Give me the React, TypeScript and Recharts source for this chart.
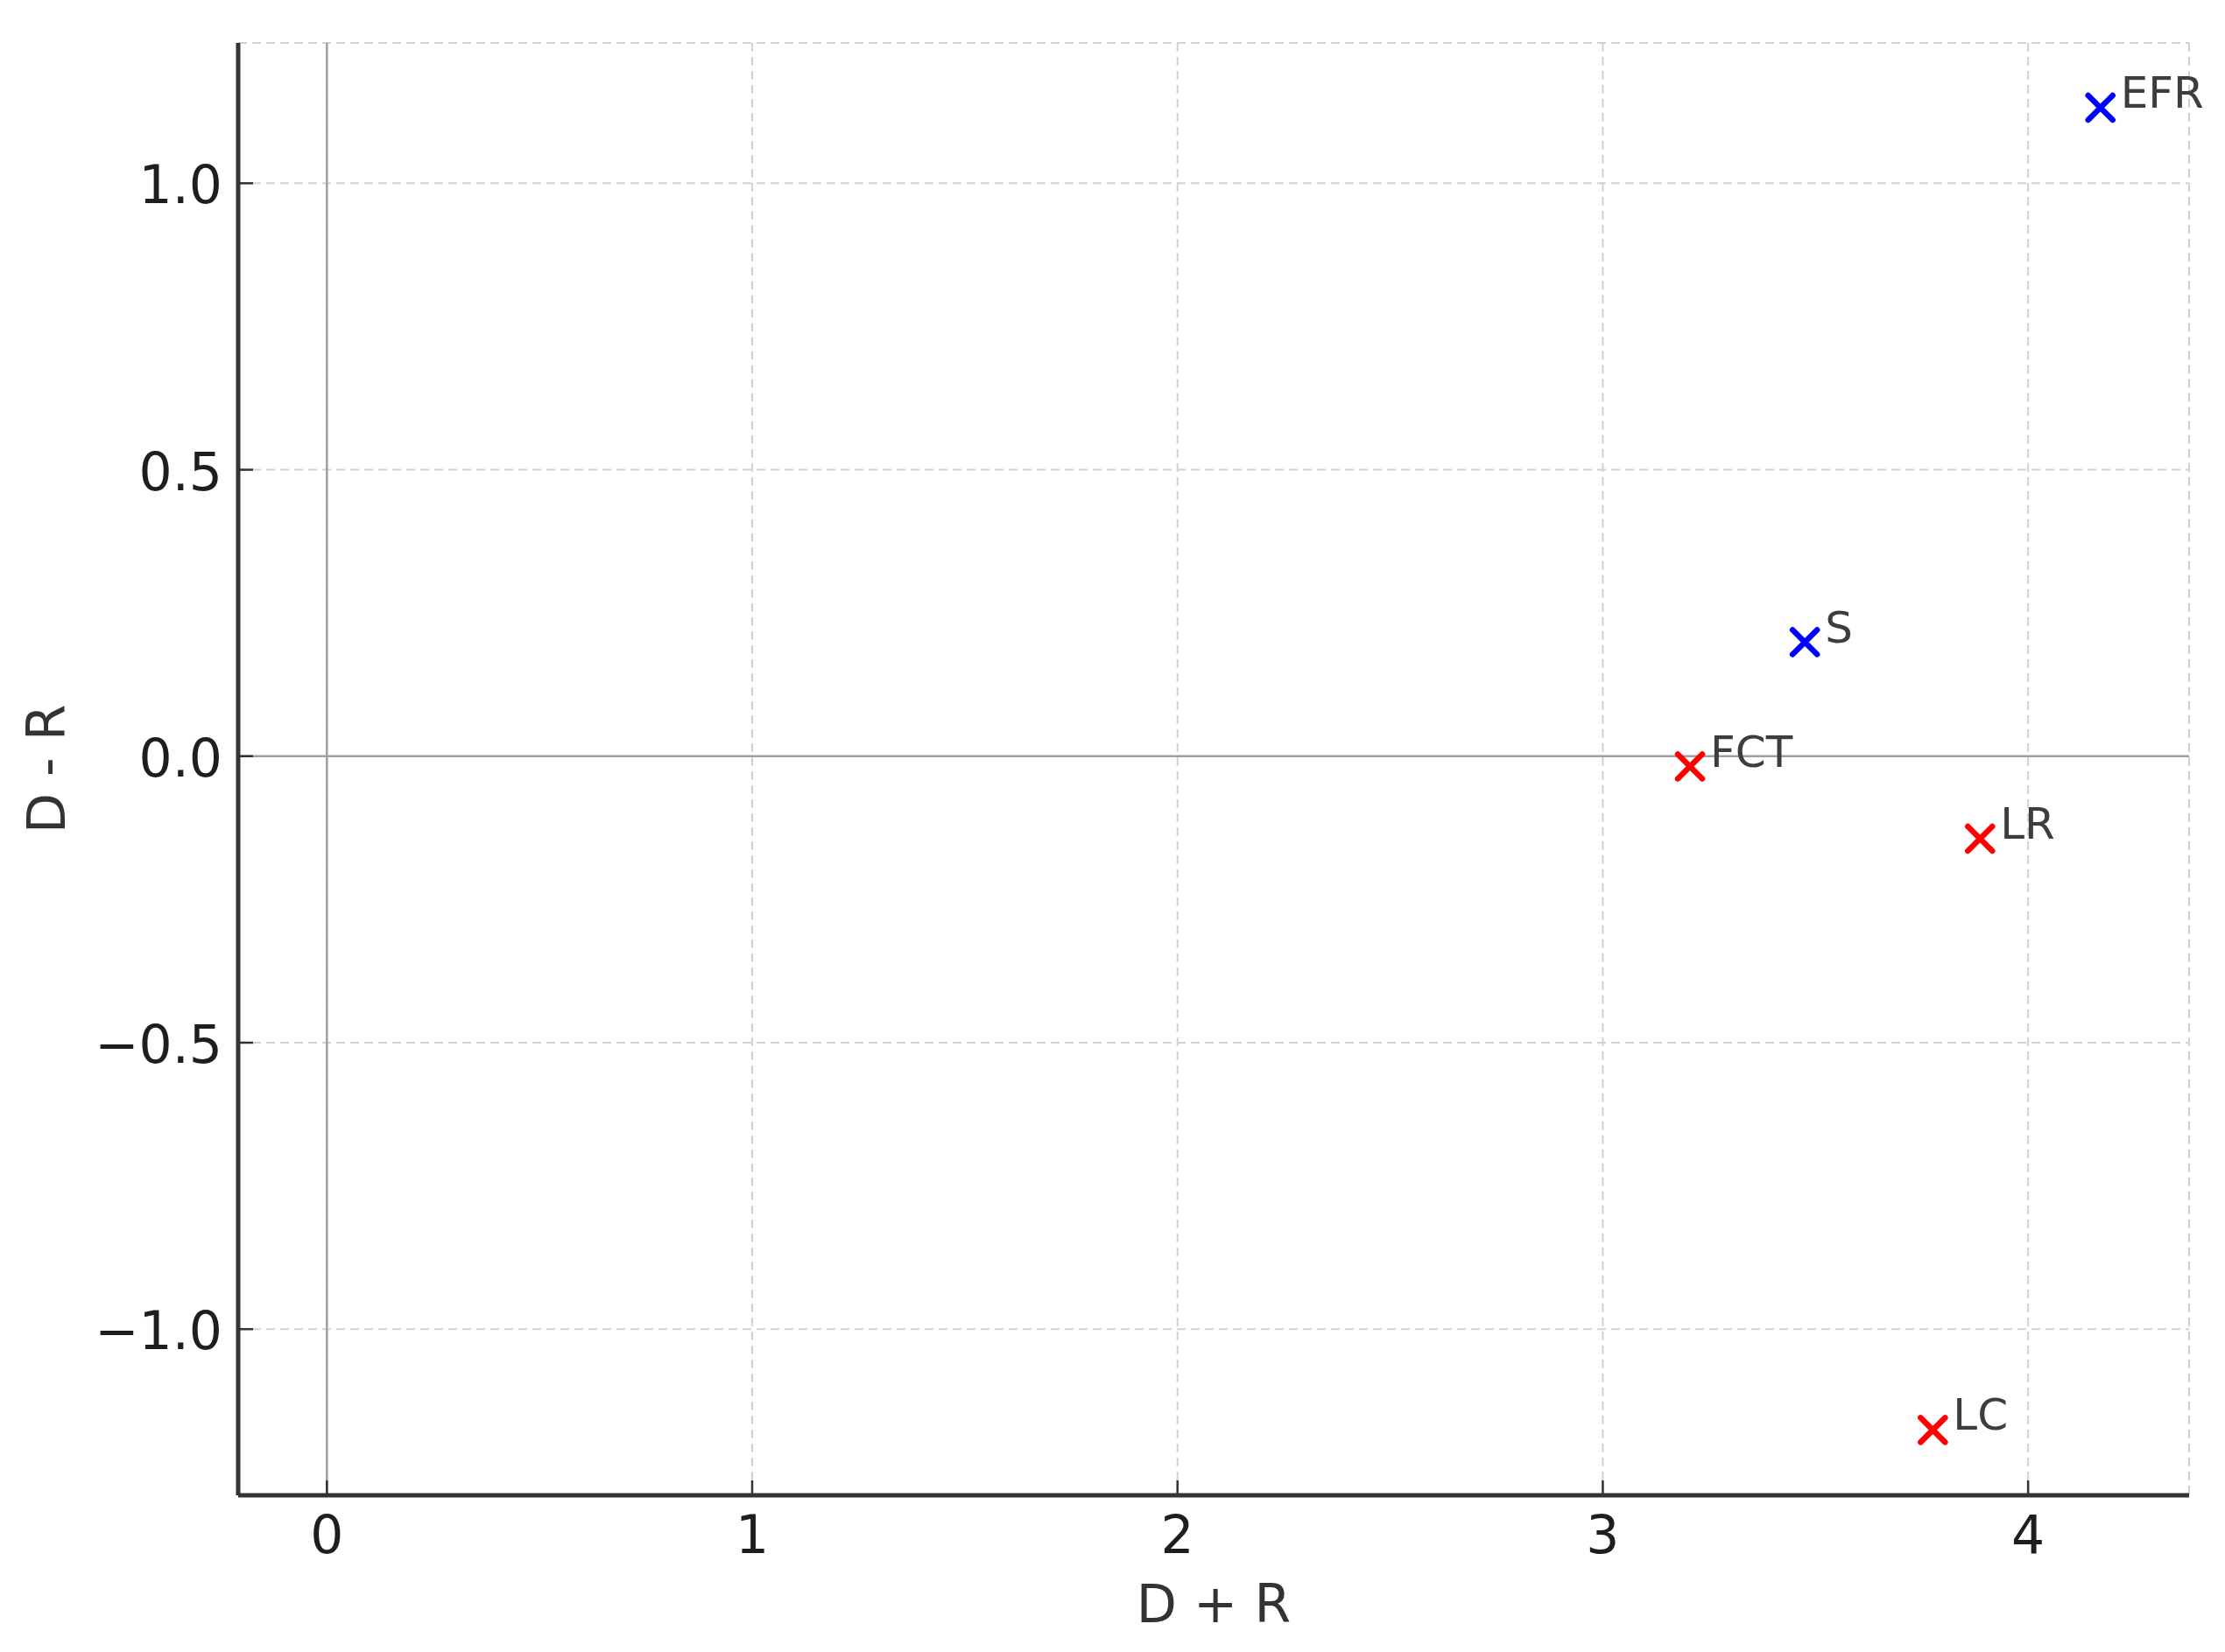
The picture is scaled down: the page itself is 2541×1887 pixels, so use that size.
import {
  CartesianGrid,
  Label,
  ReferenceLine,
  Scatter,
  ScatterChart,
  XAxis,
  YAxis,
} from "recharts";

const names = ["EFR", "S", "FCT", "LR", "LC"];
const sumValues = [4.17, 3.475, 3.205, 3.887, 3.776]; // D + R
const diffValues = [1.132, 0.199, -0.018, -0.144, -1.176]; // D - R
const xTicks = [0, 1, 2, 3, 4];
const yTicks = [-1, -0.5, 0, 0.5, 1];

const points = names.map((name, i) => ({ name, x: sumValues[i], y: diffValues[i] }));
const causes = points.filter((p) => p.y > 0);
const effects = points.filter((p) => p.y <= 0);

const FONT = "DejaVu Sans";
const TICK_MARGIN = 18;

const fmtY = (v: number) => v.toFixed(1).replace("-", "\u2212");

function makeMark(color: string) {
  return (props: any) => {
    const { cx, cy, payload } = props;
    const r = 14;
    return (
      <g>
        <path
          d={`M${cx - r},${cy - r}L${cx + r},${cy + r}M${cx - r},${cy + r}L${cx + r},${cy - r}`}
          stroke={color}
          strokeWidth={6.5}
          strokeLinecap="round"
          fill="none"
        />
        <text x={cx + 23} y={cy} fontSize={50} fill="#3d3d3d" fontFamily={FONT}>
          {payload.name}
        </text>
      </g>
    );
  };
}

function YTick(props: any) {
  const { x, y, payload } = props;
  const axisX = x + TICK_MARGIN;
  return (
    <g>
      <line x1={axisX} x2={axisX + 17} y1={y} y2={y} stroke="#333" strokeWidth={2.5} />
      <text x={x} y={y} dy={23} textAnchor="end" fontSize={60} fill="#1e1e1e" fontFamily={FONT}>
        {fmtY(payload.value)}
      </text>
    </g>
  );
}

function XTick(props: any) {
  const { x, y, payload } = props;
  const axisY = y - TICK_MARGIN;
  return (
    <g>
      <line x1={x} x2={x} y1={axisY} y2={axisY - 17} stroke="#333" strokeWidth={2.5} />
      <text x={x} y={y} dy={48} textAnchor="middle" fontSize={60} fill="#1e1e1e" fontFamily={FONT}>
        {payload.value}
      </text>
    </g>
  );
}

export default function App() {
  return (
    <div style={{ position: "absolute", left: 0, top: 0, background: "#fff" }}>
      <ScatterChart
        width={2541}
        height={1887}
        margin={{ top: 49, right: 41, bottom: 0, left: 0 }}
      >
        <CartesianGrid stroke="#d2d2d2" strokeWidth={2} strokeDasharray="10 6" />
        <XAxis
          type="number"
          dataKey="x"
          domain={[-0.2085, 4.3785]}
          ticks={xTicks}
          height={179}
          tickSize={0}
          tickMargin={TICK_MARGIN}
          tick={<XTick />}
          interval={0}
          axisLine={{ stroke: "#333", strokeWidth: 5 }}
        >
          <Label
            value="D + R"
            position="insideBottom"
            offset={34}
            fontSize={60}
            fill="#333"
            fontFamily={FONT}
          />
        </XAxis>
        <YAxis
          type="number"
          dataKey="y"
          domain={[-1.29, 1.245]}
          ticks={yTicks}
          width={272}
          tickSize={0}
          tickMargin={TICK_MARGIN}
          tick={<YTick />}
          interval={0}
          axisLine={{ stroke: "#333", strokeWidth: 5 }}
        >
          <Label
            value="D - R"
            angle={-90}
            position="insideLeft"
            offset={53}
            fontSize={60}
            fill="#333"
            fontFamily={FONT}
            style={{ textAnchor: "middle" }}
          />
        </YAxis>
        <ReferenceLine x={0} stroke="#a0a0a0" strokeWidth={2.5} />
        <ReferenceLine y={0} stroke="#a0a0a0" strokeWidth={2.5} />
        <Scatter data={causes} shape={makeMark("#0000ff")} isAnimationActive={false} />
        <Scatter data={effects} shape={makeMark("#ff0000")} isAnimationActive={false} />
      </ScatterChart>
    </div>
  );
}
